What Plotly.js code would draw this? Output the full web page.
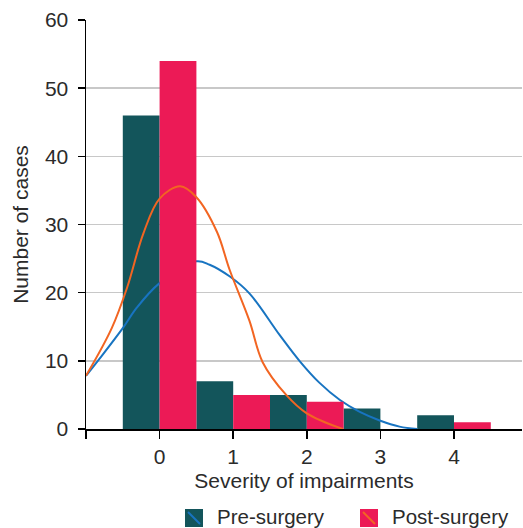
<!DOCTYPE html>
<html>
<head>
<meta charset="utf-8">
<script src="https://cdn.plot.ly/plotly-3.0.1.min.js"></script>
<style>html,body{margin:0;padding:0;background:#fff;}#chart{width:523px;height:528px;}</style>
</head>
<body>
<div id="chart"></div>
<script>
// Categories (severity levels)
const severity = [0, 1, 2, 3, 4];
const xTickVals = [-1, 0, 1, 2, 3, 4];
const xTickText = ['', '0', '1', '2', '3', '4'];
const yTickVals = [0, 10, 20, 30, 40, 50, 60];

// Bar values (number of cases)
const preSurgery = [46, 7, 5, 3, 2];
const postSurgery = [54, 5, 4, 0, 1];

// Fitted curves
const preCurveX = [-1, -0.81, -0.5, -0.31, 0, 0.5, 0.68, 0.95, 1.22, 1.63, 1.9, 2.17, 2.45, 2.72, 2.99, 3.26, 3.5];
const preCurveY = [7.8, 10.4, 14.8, 17.8, 21.4, 24.6, 24.1, 22.4, 19.9, 13.8, 10.0, 6.8, 4.25, 2.5, 1.25, 0.35, 0];
const postCurveX = [-1, -0.65, -0.44, -0.22, 0, 0.28, 0.5, 0.78, 0.95, 1.22, 1.4, 1.72, 2.0, 2.49];
const postCurveY = [7.8, 14.8, 20.8, 28.7, 33.8, 35.6, 34.0, 28.9, 23.4, 15.9, 9.8, 5.0, 2.3, 0];

const seriesNames = ['Pre-surgery', 'Post-surgery'];

const teal = '#13555B';
const pink = '#EC1A56';
const blue = '#1874C1';
const orange = '#F26522';
const textColor = '#2b2b2b';
const fontFamily = '"Liberation Sans", Arial, Helvetica, sans-serif';

const traces = [
  {type: 'bar', x: severity, y: preSurgery, name: seriesNames[0], width: 0.5, offset: -0.5,
   marker: {color: teal, line: {width: 0}}, xaxis: 'x', yaxis: 'y', showlegend: false, hoverinfo: 'x+y'},
  {type: 'scatter', mode: 'lines', x: preCurveX, y: preCurveY, line: {color: blue, width: 2, shape: 'spline', smoothing: 1},
   xaxis: 'x', yaxis: 'y', showlegend: false},
  {type: 'bar', x: severity, y: postSurgery, name: seriesNames[1], width: 0.5, offset: 0,
   marker: {color: pink, line: {width: 0}}, xaxis: 'x2', yaxis: 'y2', showlegend: false, hoverinfo: 'x+y'},
  {type: 'scatter', mode: 'lines', x: postCurveX, y: postCurveY, line: {color: orange, width: 2, shape: 'spline', smoothing: 1},
   xaxis: 'x2', yaxis: 'y2', showlegend: false}
];

const L = 86, R = 1, T = 20, B = 99;
const W = 523, H = 528;
const pw = W - L - R, ph = H - T - B;
function px(x) { return (x - L) / pw; }
function py(y) { return (H - B - y) / ph; }

// manual legend
const legendItems = [
  {name: seriesNames[0], fill: teal, stroke: blue, x0: 185, textX: 216},
  {name: seriesNames[1], fill: pink, stroke: orange, x0: 360, textX: 391}
];
const shapes = [];
const annotations = [];
legendItems.forEach(it => {
  shapes.push({type: 'rect', xref: 'paper', yref: 'paper', x0: px(it.x0), x1: px(it.x0 + 18), y0: py(527), y1: py(509),
    fillcolor: it.fill, line: {width: 0}});
  shapes.push({type: 'line', xref: 'paper', yref: 'paper', x0: px(it.x0 + 3), x1: px(it.x0 + 15), y0: py(512), y1: py(524),
    line: {color: it.stroke, width: 2}});
  annotations.push({xref: 'paper', yref: 'paper', x: px(it.textX), y: py(516), xanchor: 'left', yanchor: 'middle',
    text: it.name, showarrow: false, borderpad: 0, font: {size: 20.5, color: textColor, family: fontFamily}});
});

const layout = {
  width: W, height: H,
  margin: {l: L, r: R, t: T, b: B, pad: 0},
  paper_bgcolor: '#ffffff', plot_bgcolor: 'rgba(0,0,0,0)',
  font: {family: fontFamily, size: 21, color: textColor},
  showlegend: false,
  xaxis: {
    range: [-1, 4.924], tickvals: xTickVals, ticktext: xTickText,
    ticks: 'outside', ticklen: 8, tickwidth: 1.5, tickcolor: '#000',
    showline: true, linecolor: '#000', linewidth: 1.5,
    showgrid: false, zeroline: false,
    tickfont: {size: 21, color: textColor},
    title: {text: 'Severity of impairments', font: {size: 21, color: textColor}, standoff: 6}
  },
  yaxis: {
    range: [0, 60], tickvals: yTickVals,
    ticks: 'outside', ticklen: 7, tickwidth: 1.5, tickcolor: '#000',
    showline: true, linecolor: '#000', linewidth: 1.5,
    showgrid: true, gridcolor: '#c8c8c8', gridwidth: 1.5, zeroline: false,
    tickfont: {size: 21, color: textColor}, ticklabelstandoff: 5,
    title: {text: 'Number of cases', font: {size: 21, color: textColor}, standoff: 10}
  },
  xaxis2: {overlaying: 'x', range: [-1, 4.924], visible: false, showgrid: false, zeroline: false},
  yaxis2: {overlaying: 'y', range: [0, 60], visible: false, showgrid: false, zeroline: false},
  shapes: shapes,
  annotations: annotations
};

Plotly.newPlot('chart', traces, layout, {displayModeBar: false, staticPlot: true});
</script>
</body>
</html>
